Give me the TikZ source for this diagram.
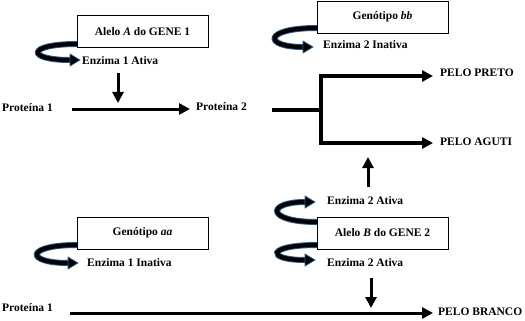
\documentclass[tikz,border=0pt]{standalone}
\usepackage{fontspec}
\setmainfont{Liberation Serif}
\usetikzlibrary{arrows.meta,calc}
\definecolor{ribbon}{RGB}{45,95,150}
\tikzset{
  lbl/.style={font=\bfseries\fontsize{11.5}{13}\selectfont, inner sep=0pt, anchor=west},
  gbox/.style={draw, fill=white, line width=0.6pt, minimum width=131pt, minimum height=32pt, inner sep=0pt, font=\bfseries\fontsize{11.5}{13}\selectfont},
  flow/.style={line width=3pt, -{Triangle[length=11pt,width=11pt]}},
  bar/.style={line width=3.5pt},
  ribunder/.style={line width=6pt, draw=ribbon},
  ribtop/.style={line width=4.2pt, draw=black},
  ribhead/.style={fill=black, draw=ribbon, line width=0.7pt},
}
\newcommand\curlar[4]{%
  \draw[ribunder] #1 .. controls #2 and #3 .. #4;
  \draw[ribtop] #1 .. controls #2 and #3 .. #4;
  \filldraw[ribhead] #4 +(0,-6) -- +(10,0) -- +(0,6) -- cycle;
}
\begin{document}
\begin{tikzpicture}[x=1pt,y=-1pt]
\useasboundingbox (0,0) rectangle (525,321);
% curled arrows (drawn under the boxes)
\curlar{(77,44)}{(26,44)}{(26,60)}{(70,60)}
\curlar{(317,28)}{(263,28)}{(263,47)}{(303,47)}
\curlar{(317,222)}{(266,222)}{(266,202)}{(305,202)}
\curlar{(317,245)}{(266,245)}{(266,260)}{(305,260)}
\curlar{(77,245)}{(25,245)}{(25,263)}{(68,263)}
% boxes
\node[gbox] (boxA) at (142.5,31.5) {Alelo \textit{A} do GENE 1};
\node[gbox] (boxbb) at (382.5,17) {Genótipo \textit{bb}};
\node[gbox] (boxB) at (382.5,233) {Alelo \textit{B} do GENE 2};
\node[gbox] (boxaa) at (142.5,233) {Genótipo \textit{aa}};
% labels
\node[lbl] (enzA) at (82,61) {Enzima 1 Ativa};
\node[lbl] (enzbb) at (323,45) {Enzima 2 Inativa};
\node[lbl] (enzBt) at (327,201) {Enzima 2 Ativa};
\node[lbl] (enzBb) at (327,263) {Enzima 2 Ativa};
\node[lbl] (enzaa) at (87,263) {Enzima 1 Inativa};
\node[lbl] (p1) at (2,108) {Proteína 1};
\node[lbl] (p2) at (196,107) {Proteína 2};
\node[lbl] (preto) at (440,73) {PELO PRETO};
\node[lbl] (aguti) at (440,142) {PELO AGUTI};
\node[lbl] (p1b) at (2,308) {Proteína 1};
\node[lbl] (branco) at (438,312) {PELO BRANCO};
% connectors
\coordinate (h1s) at (72,109);
\coordinate (h1e) at (190,109);
\draw[flow] (h1s) -- (h1e);
\coordinate (d1s) at (118,73);
\coordinate (d1e) at (118,103);
\draw[flow] (d1s) -- (d1e);
\coordinate (jl) at (272,110);
\coordinate (jr) at (321,110);
\draw[bar] (jl) -- (jr);
\coordinate (tp) at (433,76);
\coordinate (bt) at (433,143);
\draw[line width=3.5pt, line join=miter, {Triangle[length=11pt,width=11pt]}-{Triangle[length=11pt,width=11pt]}]
  (tp) -- (321,76) -- (321,143) -- (bt);
\coordinate (u1s) at (368,187);
\coordinate (u1e) at (368,157);
\draw[flow] (u1s) -- (u1e);
\coordinate (d2s) at (371,278);
\coordinate (d2e) at (371,308);
\draw[flow] (d2s) -- (d2e);
\coordinate (h2s) at (70,313);
\coordinate (h2e) at (433,313);
\draw[flow] (h2s) -- (h2e);
\end{tikzpicture}
\end{document}
